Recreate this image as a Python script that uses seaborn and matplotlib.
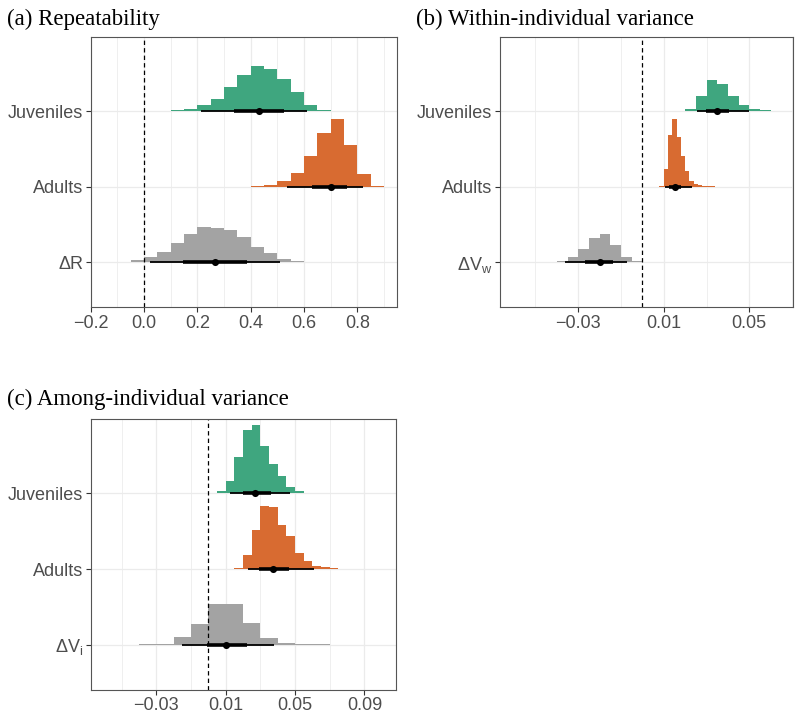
import numpy as np
import pandas as pd
import matplotlib
matplotlib.use("Agg")
import matplotlib.pyplot as plt
import seaborn as sns

# ---------------- data ----------------
GROUPS = ["Juveniles", "Adults", "Delta"]

# (a) Repeatability: posterior histograms (bin start, bin width, relative frequency)
R_BINWIDTH = 0.05
R_JUV_START, R_JUV = 0.0, [0.3, 0.5, 0.7, 2.3, 6.0, 12.3, 23.7, 36.3, 45.3, 41.7,
                          32.0, 19.0, 6.0, 1.3, 0.4]
R_AD_START, R_AD = 0.30, [0.2, 0.2, 0.3, 1.3, 5.3, 13.7, 30.7, 54.0, 68.0, 41.3,
                          12.3, 1.2]
R_DIF_START, R_DIF = -0.15, [0.3, 0.5, 2.5, 5.5, 10.6, 19.3, 28.3, 35.6, 34.8, 32.3,
                             25.3, 15.6, 9.6, 3.8, 1.6, 0.8, 0.3]
R_EST = [0.432, 0.700, 0.265]
R_LO66 = [0.336, 0.629, 0.147]
R_HI66 = [0.525, 0.760, 0.385]
R_LO95 = [0.215, 0.535, 0.022]
R_HI95 = [0.610, 0.819, 0.509]

# (b) Within-individual variance
VW_JUV_START, VW_JUV_BW, VW_JUV = 0.015, 0.005, [0.3, 1.8, 15.5, 31.2, 27.2, 15.0,
                                                   6.0, 2.2, 1.0, 0.3, 0.2]
VW_AD_START, VW_AD_BW, VW_AD = 0.008, 0.002, [1.0, 18.3, 51.7, 68.3, 50.0, 31.0,
                                                15.7, 6.0, 2.7, 1.3, 0.7, 0.3, 0.3,
                                                0.2, 0.2]
VW_DIF_START, VW_DIF_BW, VW_DIF = -0.06, 0.005, [0.1, 0.2, 0.2, 0.4, 1.8, 5.7, 13.0,
                                                   24.0, 28.6, 17.0, 5.0, 1.0, 0.3]
VW_EST = [0.0350, 0.0152, -0.0200]
VW_LO66 = [0.0298, 0.0125, -0.0268]
VW_HI66 = [0.0404, 0.0180, -0.0136]
VW_LO95 = [0.0254, 0.0105, -0.0363]
VW_HI95 = [0.0500, 0.0233, -0.0073]

# (c) Among-individual variance
VI_JUV_START, VI_JUV_BW, VI_JUV = 0.0, 0.005, [0.7, 1.8, 12.3, 36.3, 63.0, 67.7, 46.7,
                                                29.0, 16.8, 6.0, 2.0, 0.7, 0.5, 0.3,
                                                0.3, 0.2, 0.2, 0.1]
VI_AD_START, VI_AD_BW, VI_AD = 0.01, 0.005, [0.3, 1.5, 14.3, 38.6, 62.6, 61.3, 44.0,
                                              32.3, 15.6, 8.0, 3.3, 1.7, 0.7, 0.3,
                                              0.3, 0.2, 0.2, 0.1]
VI_DIF_START, VI_DIF_BW, VI_DIF = -0.06, 0.01, [0.1, 0.2, 0.3, 0.7, 7.5, 21.0, 40.7,
                                                  40.7, 21.2, 6.5, 1.7, 0.3, 0.3]
VI_EST = [0.0271, 0.0371, 0.0104]
VI_LO66 = [0.0198, 0.0294, -0.0010]
VI_HI66 = [0.0360, 0.0467, 0.0221]
VI_LO95 = [0.0125, 0.0230, -0.0150]
VI_HI95 = [0.0471, 0.0609, 0.0380]

# axis ticks and labels
R_TICKS = [-0.2, 0.0, 0.2, 0.4, 0.6, 0.8]
R_TICKLABELS = ["\u22120.2", "0.0", "0.2", "0.4", "0.6", "0.8"]
R_MINOR = [-0.1, 0.1, 0.3, 0.5, 0.7, 0.9]
VW_TICKS = [-0.03, 0.01, 0.05]
VW_TICKLABELS = ["\u22120.03", "0.01", "0.05"]
VW_MINOR = [-0.05, -0.01, 0.03, 0.07]
VI_TICKS = [-0.03, 0.01, 0.05, 0.09]
VI_TICKLABELS = ["\u22120.03", "0.01", "0.05", "0.09"]
VI_MINOR = [-0.05, -0.01, 0.03, 0.07]

R_YLABELS = ["Juveniles", "Adults", "\u0394R"]
VW_YLABELS = ["Juveniles", "Adults", "\u0394V$_\\mathregular{w}$"]
VI_YLABELS = ["Juveniles", "Adults", "\u0394V$_\\mathregular{i}$"]

TITLES = ["(a) Repeatability", "(b) Within-individual variance",
          "(c) Among-individual variance"]

# ---------------- style ----------------
sns.set_theme(style="whitegrid")
plt.rcParams["font.family"] = ["Liberation Sans", "DejaVu Sans"]
plt.rcParams["mathtext.fontset"] = "custom"
plt.rcParams["mathtext.rm"] = "Liberation Sans"
plt.rcParams["mathtext.it"] = "Liberation Sans"

COLORS = ["#3FA67F", "#D86B31", "#A3A3A3"]
GRID = "#EBEBEB"
TEXT = "#4D4D4D"

fig = plt.figure(figsize=(7.97, 7.14), dpi=100)
W, H = 797, 714


def axes_px(left, top, right, bottom):
    return fig.add_axes([left / W, 1 - bottom / H, (right - left) / W, (bottom - top) / H])


def edges_for(start, bw, n):
    return start + bw * np.arange(n + 1)


def draw_panel(ax, slabs, est, lo66, hi66, lo95, hi95, xlim, ticks, ticklabels,
               minor, ylabels):
    pos = [2, 1, 0]
    top = max(max(h) for _, _, h in slabs)
    scale = 0.9 / top
    ax.set_xlim(*xlim)
    ax.set_ylim(-0.59, 2.98)
    # grid
    ax.grid(False)
    for m in minor:
        ax.axvline(m, color=GRID, lw=0.55, zorder=0)
    for t in ticks:
        ax.axvline(t, color=GRID, lw=0.9, zorder=0)
    for p in pos:
        ax.axhline(p, color=GRID, lw=0.9, zorder=0)
    # histogram slabs
    for (start, bw, h), p, c in zip(slabs, pos, COLORS):
        h = np.asarray(h, dtype=float)
        ed = edges_for(start, bw, len(h))
        ax.stairs(p + h * scale, ed, baseline=p, fill=True, color=c, lw=0, zorder=2)
    # reference line at zero
    ax.axvline(0, color="black", lw=0.9, ls=(0, (3.5, 2.5)), zorder=3)
    # intervals
    df = pd.DataFrame({"group": GROUPS, "pos": pos, "est": est, "lo66": lo66,
                       "hi66": hi66, "lo95": lo95, "hi95": hi95})
    ax.hlines(df["pos"], df["lo95"], df["hi95"], color="black", lw=1.3, zorder=4)
    ax.hlines(df["pos"], df["lo66"], df["hi66"], color="black", lw=2.6, zorder=4)
    sns.scatterplot(data=df, x="est", y="pos", color="black", s=26, linewidth=0,
                    ax=ax, zorder=5)
    ax.set_xlabel("")
    ax.set_ylabel("")
    ax.set_xticks(ticks)
    ax.set_xticklabels(ticklabels)
    ax.set_yticks(pos)
    ax.set_yticklabels(ylabels)
    ax.tick_params(axis="both", which="major", length=3.5, width=0.8, color="#333333",
                   labelsize=13, labelcolor=TEXT, pad=2, bottom=True, left=True)
    for s in ax.spines.values():
        s.set_color("#555555")
        s.set_linewidth(0.8)
        s.set_zorder(6)


ax_a = axes_px(90.7, 37, 396.7, 307)
draw_panel(ax_a,
           [(R_JUV_START, R_BINWIDTH, R_JUV), (R_AD_START, R_BINWIDTH, R_AD),
            (R_DIF_START, R_BINWIDTH, R_DIF)],
           R_EST, R_LO66, R_HI66, R_LO95, R_HI95,
           (-0.2, 0.947), R_TICKS, R_TICKLABELS, R_MINOR, R_YLABELS)

ax_b = axes_px(500, 37, 792.7, 307)
draw_panel(ax_b,
           [(VW_JUV_START, VW_JUV_BW, VW_JUV), (VW_AD_START, VW_AD_BW, VW_AD),
            (VW_DIF_START, VW_DIF_BW, VW_DIF)],
           VW_EST, VW_LO66, VW_HI66, VW_LO95, VW_HI95,
           (-0.0666, 0.0703), VW_TICKS, VW_TICKLABELS, VW_MINOR, VW_YLABELS)

ax_c = axes_px(90.7, 419, 396, 689.5)
draw_panel(ax_c,
           [(VI_JUV_START, VI_JUV_BW, VI_JUV), (VI_AD_START, VI_AD_BW, VI_AD),
            (VI_DIF_START, VI_DIF_BW, VI_DIF)],
           VI_EST, VI_LO66, VI_HI66, VI_LO95, VI_HI95,
           (-0.0678, 0.1082), VI_TICKS, VI_TICKLABELS, VI_MINOR, VI_YLABELS)

# panel titles
title_kw = dict(family=["Liberation Serif", "DejaVu Serif"], fontsize=16.5,
                color="black", va="baseline", ha="left")
fig.text(7 / W, 1 - 25 / H, TITLES[0], **title_kw)
fig.text(416.5 / W, 1 - 25 / H, TITLES[1], **title_kw)
fig.text(7 / W, 1 - 405 / H, TITLES[2], **title_kw)

fig.savefig("out.png", dpi=100, facecolor="white")
